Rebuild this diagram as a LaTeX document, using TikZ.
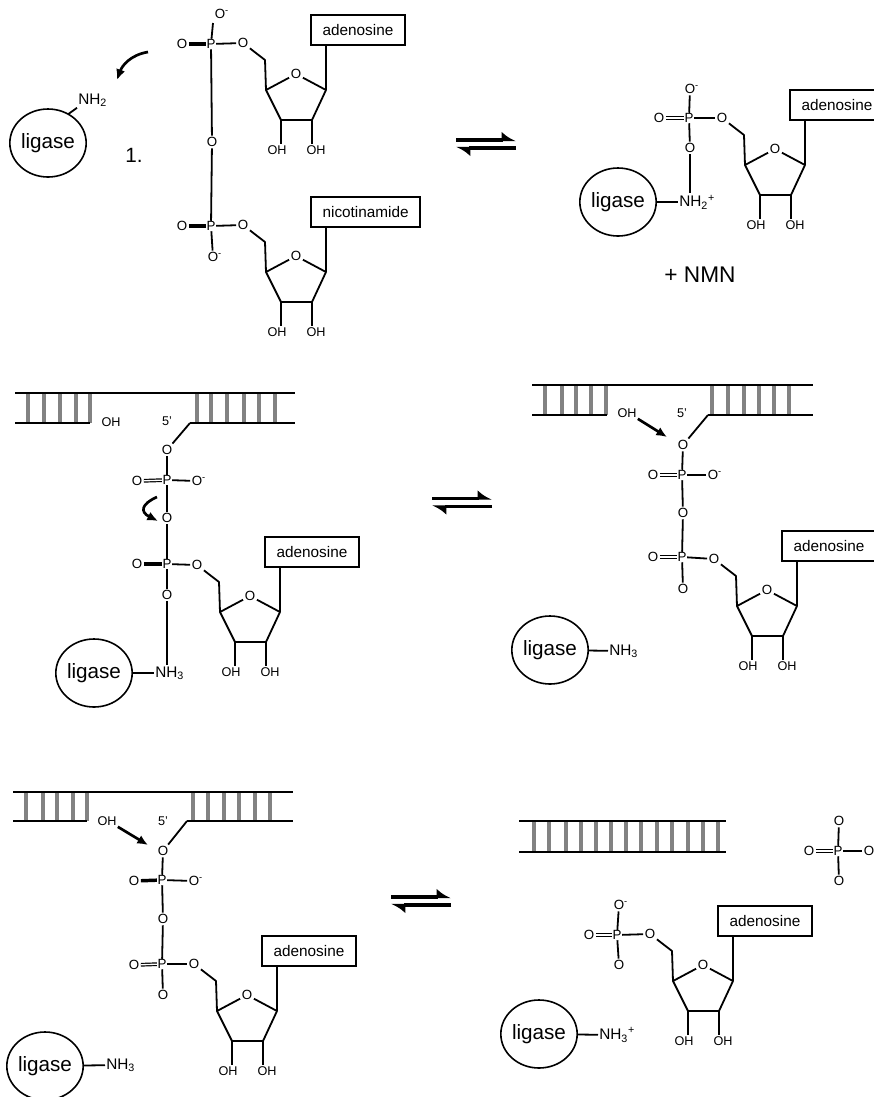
\documentclass[tikz,border=0pt]{standalone}
\usepackage{fontspec}
\setmainfont{Liberation Sans}
\usepackage{xcolor}
\usetikzlibrary{arrows.meta, shapes.geometric}
\definecolor{RungGray}{RGB}{130,130,130}
\newcommand{\fsz}[1]{\fontsize{#1}{#1}\selectfont}
\newcommand{\Ochg}{O\rlap{\textsuperscript{-}}}
\tikzset{
  >=latex,
  % Atomi e legami
  atom/.style={font=\fsz{10},inner sep=1.3pt,outer sep=0pt},
  phos/.style={atom,inner sep=0.5pt},
  hydroxyl/.style={font=\fsz{9.5},inner sep=1pt,outer sep=0pt},
  amine/.style={font=\fsz{11.5},inner sep=1pt,outer sep=0pt,anchor=west},
  bond/.style={line width=1.35pt,line join=round},
  bond double/.style={line width=0.9pt,double,double distance=1pt},
  bond heavy/.style={line width=2.6pt},
  % Enzima, base, elica
  ligase/.style={draw,ellipse,line width=1.2pt,font=\fsz{15.5},inner sep=0pt,
    outer sep=0pt,minimum width=56pt,minimum height=51pt},
  basebox/.style={draw,line width=1.35pt,font=\fsz{11.5},inner xsep=8.7pt,
    outer sep=0pt,minimum height=22.5pt,anchor=south west},
  rung/.style={line width=2.5pt,RungGray},
  strand/.style={line width=1.4pt},
  % Frecce
  attack/.style={line width=2pt,-{Latex[length=8pt,width=7pt]}},
  pics/equil/.style={code={
    \coordinate (-a) at (0,0);
    \coordinate (-b) at (60,0);
    \coordinate (-c) at (60,8);
    \coordinate (-d) at (0,8);
    \draw[line width=#1,-{Latex[length=9pt,width=13pt,left]}] (-a) -- (-b);
    \draw[line width=#1,-{Latex[length=9pt,width=13pt,left]}] (-c) -- (-d);
  }},
  pics/ribose/.style={code={
    \coordinate (-kink) at (-1,-30);
    \coordinate (-cl) at (0,0);
    \coordinate (-cr) at (60,0);
    \coordinate (-cll) at (15,30);
    \coordinate (-clr) at (46,30);
    \node[atom] (-o5) at (-23,-47) {O};
    \node[atom] (-o) at (30,-16) {O};
    \node[hydroxyl] (-oh1) at (11,60) {OH};
    \node[hydroxyl] (-oh2) at (50,60) {OH};
    \node[basebox] (-base) at (45,-45) {#1};
    \draw[bond] (-o5) -- (-kink) -- (-cl) -- (-cll) -- (-clr) -- (-cr);
    \draw[bond] (-cl) -- (-o) -- (-cr);
    \draw[bond] (-cll) -- (-oh1.north -| -cll);
    \draw[bond] (-clr) -- (-oh2.north -| -clr);
    \draw[bond] (-cr) -- (-base.south -| -cr);
  }}
}
\begin{document}
\begin{tikzpicture}[x=0.75pt,y=-0.75pt]
  \useasboundingbox (0,0) rectangle (874,1097);

  % primo passo, sinistra
  \pic (ra1) at (266,90) {ribose={adenosine}};
  \pic (ra2) at (266,272) {ribose={nicotinamide}};
  \node[phos] (pa1) at (211,44) {P};
  \node[atom] (oa1) at (182,44) {O};
  \node[atom] (oa2) at (220,14) {\Ochg};
  \coordinate (oa2b) at (213,23);
  \node[atom] (oa3) at (212,142) {O};
  \node[phos] (pa2) at (211,226) {P};
  \node[atom] (oa4) at (182,226) {O};
  \node[atom] (oa5) at (213,257) {\Ochg};
  \draw[bond heavy] (oa1) -- (pa1);
  \draw[bond] (pa1) -- (oa2b);
  \draw[bond] (pa1) -- (ra1-o5);
  \draw[bond] (pa1) -- (oa3);
  \draw[bond] (oa3) -- (pa2);
  \draw[bond heavy] (oa4) -- (pa2);
  \draw[bond] (pa2) -- (ra2-o5);
  \draw[bond] (pa2) -- (oa5);
  \node[ligase] (lga) at (48,143) {ligase};
  \node[amine] (nha) at (77,100) {NH\textsubscript{2}};
  \draw[bond] (lga.55) -- (nha.south west);
  \node[font=\fsz{15.5},inner sep=0pt] (stepa) at (134,155) {1.};
  \coordinate (cura) at (148,52);
  \coordinate (curb) at (117,80);
  \draw[attack] (cura) .. controls (130,55) and (122,66) .. (curb);
  \pic (eqa) at (456,140) {equil=3pt};

  % primo passo, destra
  \pic (rb) at (745,165) {ribose={adenosine}};
  \node[phos] (pb) at (689,118) {P};
  \node[atom] (ob1) at (659,118) {O};
  \node[atom] (ob2) at (690,89) {\Ochg};
  \node[atom] (ob3) at (690,148) {O};
  \node[ligase] (lgb) at (618,202) {ligase};
  \node[amine] (nhb) at (678,202) {NH\textsubscript{2}\textsuperscript{+}};
  \draw[bond double] (ob1) -- (pb);
  \draw[bond] (pb) -- (ob2);
  \draw[bond] (pb) -- (rb-o5);
  \draw[bond] (pb) -- (ob3);
  \draw[bond] (ob3) -- (ob3 |- nhb.north);
  \draw[bond] (lgb) -- (nhb);
  \node[font=\fsz{17},inner sep=0pt] (nmn) at (700,275) {+ NMN};

  % secondo passo, sinistra
  \foreach \x in {28,44,60,76,90,197,211,227,244,259,275}
    \draw[rung] (\x,393) -- (\x,423);
  \coordinate (sc1) at (15,393);
  \coordinate (sc2) at (295,393);
  \coordinate (sc3) at (15,423);
  \coordinate (sc4) at (90,423);
  \coordinate (sc5) at (190,423);
  \coordinate (sc6) at (295,423);
  \draw[strand] (sc1) -- (sc2);
  \draw[strand] (sc3) -- (sc4);
  \draw[strand] (sc5) -- (sc6);
  \node[hydroxyl] (ohc) at (111,422) {OH};
  \node[hydroxyl] (endc) at (167,421) {5'};
  \pic (rc) at (220,612) {ribose={adenosine}};
  \node[atom] (oc1) at (167,450) {O};
  \node[phos] (pc1) at (167,480) {P};
  \node[atom] (oc2) at (137,481) {O};
  \node[atom] (oc3) at (197,481) {\Ochg};
  \node[atom] (oc4) at (167,518) {O};
  \node[phos] (pc2) at (167,564) {P};
  \node[atom] (oc5) at (137,564) {O};
  \node[atom] (oc6) at (167,595) {O};
  \node[ligase] (lgc) at (94,673) {ligase};
  \node[amine] (nhc) at (154,673) {NH\textsubscript{3}};
  \draw[bond] (sc5) -- (oc1);
  \draw[bond] (oc1) -- (pc1);
  \draw[bond double] (oc2) -- (pc1);
  \draw[bond] (pc1) -- (oc3);
  \draw[bond] (pc1) -- (oc4);
  \draw[bond] (oc4) -- (pc2);
  \draw[bond heavy] (oc5) -- (pc2);
  \draw[bond] (pc2) -- (rc-o5);
  \draw[bond] (pc2) -- (oc6);
  \draw[bond] (oc6) -- (oc6 |- nhc.north);
  \draw[bond] (lgc) -- (nhc);
  \coordinate (curc) at (157,497);
  \coordinate (curd) at (158,521);
  \draw[attack] (curc) .. controls (141,504) and (140,512) .. (curd);
  \pic (eqb) at (432,498.5) {equil=2.8pt};

  % secondo passo, destra
  \foreach \x in {545,562,576,591,606,712,728,744,759,774,789}
    \draw[rung] (\x,385) -- (\x,415);
  \coordinate (sd1) at (532,385);
  \coordinate (sd2) at (813,385);
  \coordinate (sd3) at (532,415);
  \coordinate (sd4) at (607,415);
  \coordinate (sd5) at (708,415);
  \coordinate (sd6) at (813,415);
  \draw[strand] (sd1) -- (sd2);
  \draw[strand] (sd3) -- (sd4);
  \draw[strand] (sd5) -- (sd6);
  \node[hydroxyl] (ohd) at (627,413) {OH};
  \node[hydroxyl] (endd) at (682,413) {5'};
  \pic (rd) at (737,606) {ribose={adenosine}};
  \node[atom] (od1) at (683,445) {O};
  \node[phos] (pd1) at (682,475) {P};
  \node[atom] (od2) at (653,475) {O};
  \node[atom] (od3) at (713,475) {\Ochg};
  \node[atom] (od4) at (683,513) {O};
  \node[phos] (pd2) at (682,557) {P};
  \node[atom] (od5) at (653,557) {O};
  \node[atom] (od6) at (683,589) {O};
  \node[ligase] (lgd) at (550,650) {ligase};
  \node[amine] (nhd) at (608,651) {NH\textsubscript{3}};
  \draw[bond] (sd5) -- (od1);
  \draw[bond] (od1) -- (pd1);
  \draw[bond double] (od2) -- (pd1);
  \draw[bond] (pd1) -- (od3);
  \draw[bond] (pd1) -- (od4);
  \draw[bond] (od4) -- (pd2);
  \draw[bond double] (od5) -- (pd2);
  \draw[bond] (pd2) -- (rd-o5);
  \draw[bond] (pd2) -- (od6);
  \draw[bond] (lgd) -- (nhd);
  \coordinate (curf) at (667,437);
  \draw[attack] (ohd.south east) -- (curf);

  % terzo passo, sinistra
  \foreach \x in {26,43,57,73,87,193,208,224,239,255,270}
    \draw[rung] (\x,792) -- (\x,821);
  \coordinate (se1) at (13,792);
  \coordinate (se2) at (293,792);
  \coordinate (se3) at (13,821);
  \coordinate (se4) at (87,821);
  \coordinate (se5) at (187,821);
  \coordinate (se6) at (293,821);
  \draw[strand] (se1) -- (se2);
  \draw[strand] (se3) -- (se4);
  \draw[strand] (se5) -- (se6);
  \node[hydroxyl] (ohe) at (107,821) {OH};
  \node[hydroxyl] (ende) at (163,821) {5'};
  \pic (re) at (217,1011) {ribose={adenosine}};
  \node[atom] (oe1) at (163,851) {O};
  \node[phos] (pe1) at (162,880) {P};
  \node[atom] (oe2) at (134,881) {O};
  \node[atom] (oe3) at (194,881) {\Ochg};
  \node[atom] (oe4) at (163,919) {O};
  \node[phos] (pe2) at (162,964) {P};
  \node[atom] (oe5) at (134,965) {O};
  \node[atom] (oe6) at (163,995) {O};
  \node[ligase] (lge) at (45,1066) {ligase};
  \node[amine] (nhe) at (105,1065) {NH\textsubscript{3}};
  \draw[bond] (se5) -- (oe1);
  \draw[bond] (oe1) -- (pe1);
  \draw[bond heavy] (oe2) -- (pe1);
  \draw[bond] (pe1) -- (oe3);
  \draw[bond] (pe1) -- (oe4);
  \draw[bond] (oe4) -- (pe2);
  \draw[bond double] (oe5) -- (pe2);
  \draw[bond] (pe2) -- (re-o5);
  \draw[bond] (pe2) -- (oe6);
  \draw[bond] (lge) -- (nhe);
  \coordinate (curg) at (148,845);
  \draw[attack] (ohe.south east) -- (curg);
  \pic (eqc) at (391,897) {equil=2.3pt};

  % terzo passo, destra
  \foreach \x in {534,549,566,581,596,611,626,641,657,672,688,703,718}
    \draw[rung] (\x,821) -- (\x,852);
  \coordinate (sf1) at (519,821);
  \coordinate (sf2) at (726,821);
  \coordinate (sf3) at (519,852);
  \coordinate (sf4) at (726,852);
  \draw[strand] (sf1) -- (sf2);
  \draw[strand] (sf3) -- (sf4);
  \node[phos] (pf1) at (838,851) {P};
  \node[atom] (of1) at (839,821) {O};
  \node[atom] (of2) at (809,851) {O};
  \node[atom] (of3) at (869,851) {O};
  \node[atom] (of4) at (839,881) {O};
  \draw[bond] (pf1) -- (of1);
  \draw[bond double] (of2) -- (pf1);
  \draw[bond] (pf1) -- (of3);
  \draw[bond] (pf1) -- (of4);
  \pic (rf) at (673,981) {ribose={adenosine}};
  \node[phos] (pf2) at (617,935) {P};
  \node[atom] (of5) at (619,905) {\Ochg};
  \node[atom] (of6) at (589,935) {O};
  \node[atom] (of7) at (619,965) {O};
  \draw[bond] (pf2) -- (of5);
  \draw[bond double] (of6) -- (pf2);
  \draw[bond] (pf2) -- (rf-o5);
  \draw[bond] (pf2) -- (of7);
  \node[ligase] (lgf) at (539,1034) {ligase};
  \node[amine] (nhf) at (598,1035) {NH\textsubscript{3}\textsuperscript{+}};
  \draw[bond] (lgf) -- (nhf);
\end{tikzpicture}
\end{document}
